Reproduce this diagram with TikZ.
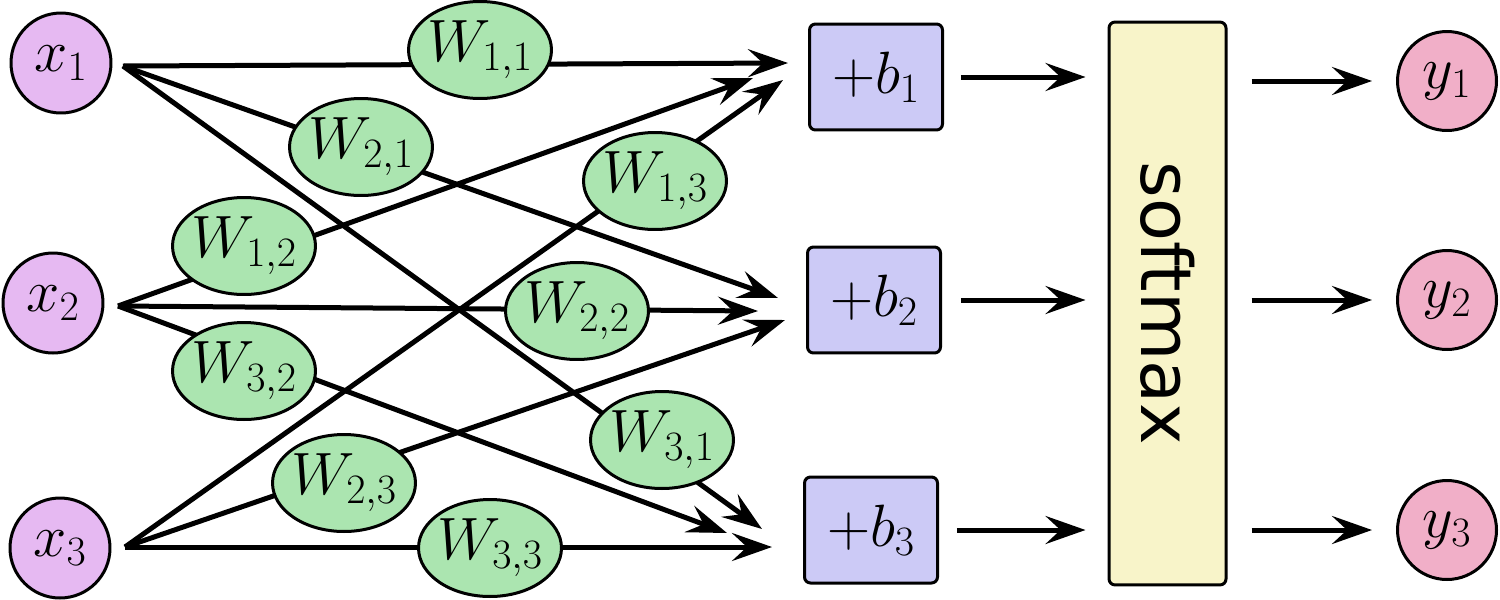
\RequirePackage{fix-cm}
\documentclass[tikz,border=0pt]{standalone}
\usepackage{fontspec}
\newfontfamily\smfont{DejaVu Sans}
\usetikzlibrary{arrows.meta,shapes.geometric}
\definecolor{xcol}{HTML}{E6B9F2}
\definecolor{wcol}{HTML}{ABE5B0}
\definecolor{bcol}{HTML}{CCCAF6}
\definecolor{scol}{HTML}{F8F4C9}
\definecolor{ycol}{HTML}{F1AFC8}
\begin{document}
\begin{tikzpicture}[x=0.02cm,y=-0.02cm,
  conn/.style={line width=0.1cm,-{Stealth[length=0.8cm,width=0.56cm,inset=0.3cm]}},
  base/.style={draw,line width=0.06cm,inner sep=0pt,font=\fontsize{34}{40}\selectfont},
  innode/.style={base,circle,fill=xcol,minimum size=2cm},
  outnode/.style={base,circle,fill=ycol,minimum size=1.98cm},
  wnode/.style={base,ellipse,fill=wcol,inner xsep=-0.25cm,inner ysep=-0.1cm,minimum width=2.86cm,minimum height=1.94cm},
  bnode/.style={base,rectangle,rounded corners=0.12cm,fill=bcol,minimum width=2.66cm,minimum height=2.12cm},
  snode/.style={base,rectangle,rounded corners=0.12cm,fill=scol,minimum width=2.34cm,minimum height=11.26cm}]
\useasboundingbox (0,0) rectangle (1500,599);
% inputs
\node[innode] (x1) at (61,63) {$x_1$};
\node[innode] (x2) at (53,303) {$x_2$};
\node[innode] (x3) at (60,548) {$x_3$};
% start points
\coordinate (s1) at (123,66);
\coordinate (s2) at (118,306);
\coordinate (s3) at (125,547);
% tips
\coordinate (t11) at (788,63);
\coordinate (t12) at (753,78);
\coordinate (t13) at (783,80);
\coordinate (t21) at (778,298);
\coordinate (t22) at (758,311);
\coordinate (t23) at (785,320);
\coordinate (t31) at (762,529);
\coordinate (t32) at (727,533);
\coordinate (t33) at (772,547);
% weighted connections
\draw[conn] (s1) -- (t11);
\draw[conn] (s2) -- (t12);
\draw[conn] (s3) -- (t13);
\draw[conn] (s1) -- (t21);
\draw[conn] (s2) -- (t22);
\draw[conn] (s3) -- (t23);
\draw[conn] (s1) -- (t31);
\draw[conn] (s2) -- (t32);
\draw[conn] (s3) -- (t33);
% weights
\node[wnode] (w11) at (480,50) {$W_{1,1}$};
\node[wnode] (w21) at (361,147) {$W_{2,1}$};
\node[wnode] (w12) at (244,246) {$W_{1,2}$};
\node[wnode] (w13) at (655,181) {$W_{1,3}$};
\node[wnode] (w22) at (577,311) {$W_{2,2}$};
\node[wnode] (w32) at (244,371) {$W_{3,2}$};
\node[wnode] (w31) at (662,440) {$W_{3,1}$};
\node[wnode] (w23) at (344,483) {$W_{2,3}$};
\node[wnode] (w33) at (490,548) {$W_{3,3}$};
% biases
\node[bnode] (b1) at (876,77) {$+b_1$};
\node[bnode] (b2) at (874,300) {$+b_2$};
\node[bnode] (b3) at (871,530) {$+b_3$};
% softmax
\node[snode] (soft) at (1167.5,303.5) {};
\node[rotate=-90,font=\smfont\fontsize{40}{48}\selectfont] (softlabel) at (soft.center) {softmax};
% outputs
\node[outnode] (y1) at (1447,81) {$y_1$};
\node[outnode] (y2) at (1447,300) {$y_2$};
\node[outnode] (y3) at (1447,530) {$y_3$};
% bias to softmax
\draw[conn,shorten <=0.34cm,shorten >=0.44cm] (b1.east) -- (b1.east -| soft.west);
\draw[conn,shorten <=0.38cm,shorten >=0.44cm] (b2.east) -- (b2.east -| soft.west);
\draw[conn,shorten <=0.36cm,shorten >=0.44cm] (b3.east) -- (b3.east -| soft.west);
% softmax to outputs
\draw[conn,shorten <=0.48cm,shorten >=0.48cm] (soft.east |- y1.west) -- (y1.west);
\draw[conn,shorten <=0.48cm,shorten >=0.48cm] (soft.east |- y2.west) -- (y2.west);
\draw[conn,shorten <=0.48cm,shorten >=0.48cm] (soft.east |- y3.west) -- (y3.west);
\end{tikzpicture}
\end{document}
